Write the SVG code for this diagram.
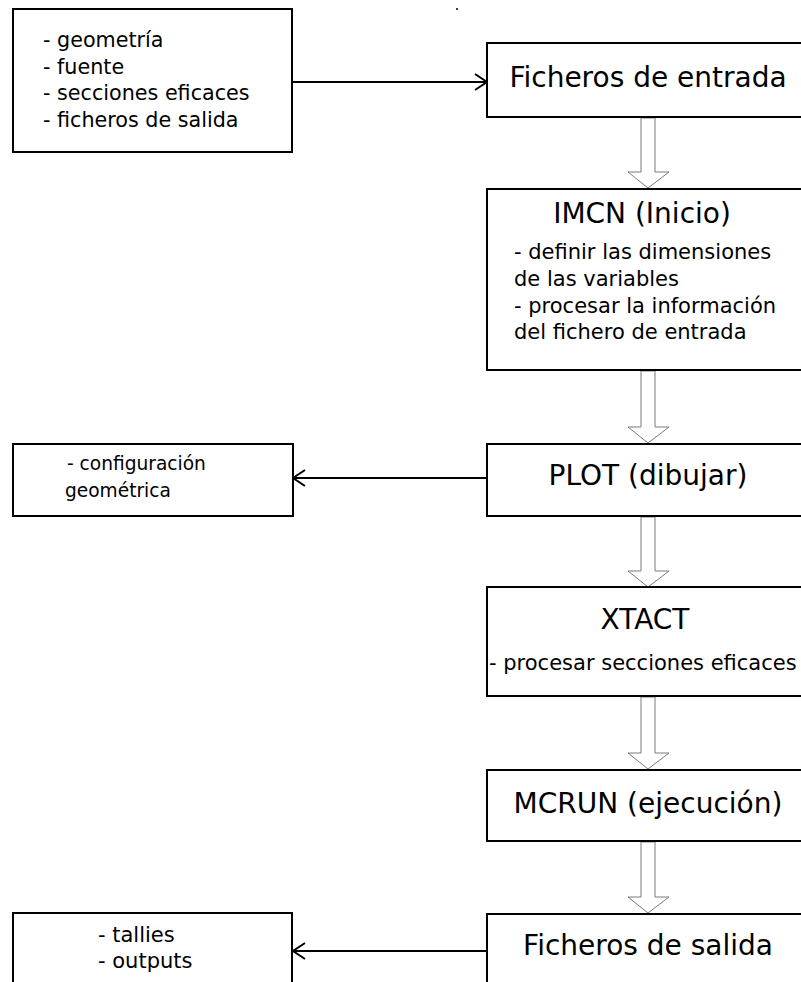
<svg xmlns="http://www.w3.org/2000/svg" width="801" height="982" viewBox="0 0 801 982">
  <style>
    .box { fill: #ffffff; stroke: #000000; stroke-width: 2; }
    .t { font-family: "DejaVu Sans", "Liberation Sans", sans-serif; fill: #000000; }
    .title { font-size: 28px; text-anchor: middle; }
    .body { font-size: 21px; }
    .flow { fill: #ffffff; stroke: #7a7a7a; stroke-width: 1; }
    .link { fill: none; stroke: #000000; stroke-width: 2; }
    .tip { fill: none; stroke: #000000; stroke-width: 2; stroke-linejoin: miter; }
  </style>
  <rect width="801" height="982" fill="#ffffff"/>
  <circle cx="457" cy="9" r="1" fill="#000000"/>

  <!-- connectors -->
  <g id="connectors">
    <!-- hollow flow arrows down the main column -->
    <polygon class="flow" points="641,118 655,118 655,172 669,172 648,188 628,172 641,172"/>
    <polygon class="flow" points="641,371 655,371 655,427 669,427 648,443 628,427 641,427"/>
    <polygon class="flow" points="641,517 655,517 655,571 669,571 648,587 628,571 641,571"/>
    <polygon class="flow" points="641,697 655,697 655,753 669,753 648,769 628,753 641,753"/>
    <polygon class="flow" points="641,842 655,842 655,897 669,897 648,913 628,897 641,897"/>
    <!-- side links -->
    <line class="link" x1="293" y1="82" x2="486" y2="82"/>
    <polyline class="tip" points="475,74 487,82 475,90"/>
    <line class="link" x1="294" y1="478" x2="487" y2="478"/>
    <polyline class="tip" points="305,470 293,478 305,486"/>
    <line class="link" x1="294" y1="951" x2="487" y2="951"/>
    <polyline class="tip" points="305,943 293,951 305,959"/>
  </g>

  <g id="datos-entrada">
    <rect class="box" x="13" y="9" width="279" height="143"/>
    <text class="t" x="43" y="47" font-size="20.7">- geometría</text>
    <text class="t" x="43" y="74" font-size="20.7">- fuente</text>
    <text class="t" x="43" y="100" font-size="20.7">- secciones eficaces</text>
    <text class="t" x="43" y="127" font-size="20.7">- ficheros de salida</text>
  </g>

  <g id="ficheros-entrada">
    <rect class="box" x="487" y="43" width="330" height="74"/>
    <text class="t title" x="648" y="87">Ficheros de entrada</text>
  </g>

  <g id="imcn">
    <rect class="box" x="487" y="189" width="330" height="181"/>
    <text class="t title" x="642" y="223" font-size="30">IMCN (Inicio)</text>
    <text class="t body" x="514" y="259">- definir las dimensiones</text>
    <text class="t body" x="514" y="286">de las variables</text>
    <text class="t body" x="514" y="313">- procesar la información</text>
    <text class="t body" x="514" y="339">del fichero de entrada</text>
  </g>

  <g id="configuracion">
    <rect class="box" x="13" y="444" width="280" height="72"/>
    <text class="t" x="67" y="470" font-size="18.6">- configuración</text>
    <text class="t" x="65" y="497" font-size="18.6">geométrica</text>
  </g>

  <g id="plot">
    <rect class="box" x="487" y="444" width="330" height="72"/>
    <text class="t title" x="648" y="485" font-size="28.8">PLOT (dibujar)</text>
  </g>

  <g id="xtact">
    <rect class="box" x="487" y="587" width="330" height="109"/>
    <text class="t title" x="645" y="629" font-size="27">XTACT</text>
    <text class="t body" x="489" y="670">- procesar secciones eficaces</text>
  </g>

  <g id="mcrun">
    <rect class="box" x="487" y="770" width="330" height="71"/>
    <text class="t title" x="648" y="813">MCRUN (ejecución)</text>
  </g>

  <g id="ficheros-salida">
    <rect class="box" x="487" y="914" width="330" height="90"/>
    <text class="t title" x="648" y="955">Ficheros de salida</text>
  </g>

  <g id="resultados">
    <rect class="box" x="13" y="913" width="279" height="90"/>
    <text class="t body" x="98" y="942">- tallies</text>
    <text class="t body" x="98" y="968">- outputs</text>
  </g>
</svg>
